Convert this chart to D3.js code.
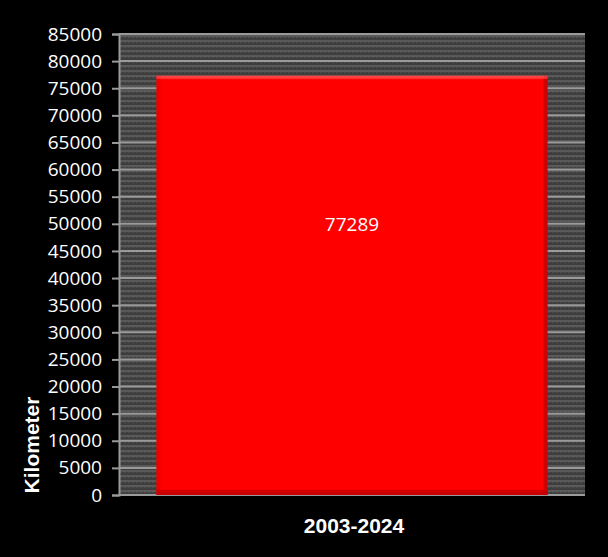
<!DOCTYPE html>
<html><head><meta charset="utf-8">
<script src="https://cdn.jsdelivr.net/npm/d3@7"></script>
<style>html,body{margin:0;padding:0;background:#000;}svg{display:block;}</style>
</head><body>
<script>
const categories = ["2003-2024"];
const values = [77289];
const yTicks = [0,5000,10000,15000,20000,25000,30000,35000,40000,45000,50000,55000,60000,65000,70000,75000,80000,85000];
const yLabel = "Kilometer";

const W = 608, H = 557;
const m = {left:119, right:23, top:34, bottom:62};
const svg = d3.select("body").append("svg").attr("width", W).attr("height", H);
svg.append("rect").attr("width", W).attr("height", H).attr("fill", "#000");

const defs = svg.append("defs");
const pat = defs.append("pattern").attr("id","stripes").attr("patternUnits","userSpaceOnUse")
  .attr("width",4).attr("height",5);
pat.append("rect").attr("width",4).attr("height",5).attr("fill","#3e3e3e");
pat.append("rect").attr("y",0).attr("width",4).attr("height",2).attr("fill","#595959");
pat.append("rect").attr("x",0).attr("y",2).attr("width",2).attr("height",1).attr("fill","#4c4c4c");

const x = d3.scaleBand().domain(categories).range([m.left, W - m.right]).paddingInner(0.0875).paddingOuter(0.0875);
const y = d3.scaleLinear().domain([0, 85000]).range([H - m.bottom, m.top]);

svg.append("rect").attr("x", m.left).attr("y", m.top)
  .attr("width", W - m.right - m.left).attr("height", (H - m.bottom) - m.top)
  .attr("fill", "url(#stripes)");

svg.append("g").selectAll("line").data(yTicks).join("line")
  .attr("x1", m.left).attr("x2", W - m.right)
  .attr("y1", d => y(d)).attr("y2", d => y(d))
  .attr("stroke", "#9a9a9a").attr("stroke-width", 2);

const yAxis = svg.append("g").attr("transform", `translate(${m.left},0)`)
  .call(d3.axisLeft(y).tickValues(yTicks).tickSize(7).tickPadding(10).tickFormat(d3.format("d")));
yAxis.select(".domain").attr("stroke", "#9a9a9a").attr("stroke-width", 2);
yAxis.selectAll(".tick line").attr("stroke", "#9a9a9a").attr("stroke-width", 2);
yAxis.selectAll(".tick text").attr("fill", "#fff").attr("font-size", 19)
  .attr("font-family", "'Open Sans', 'Noto Sans', sans-serif");

const gEdge = defs.append("linearGradient").attr("id","barv").attr("x1",0).attr("x2",0).attr("y1",0).attr("y2",1);
gEdge.append("stop").attr("offset","0").attr("stop-color","#ff3030");
gEdge.append("stop").attr("offset","0.01").attr("stop-color","#ff0000");
gEdge.append("stop").attr("offset","0.985").attr("stop-color","#ff0000");
gEdge.append("stop").attr("offset","1").attr("stop-color","#c40000");

const bars = svg.append("g").selectAll("g").data(categories.map((c,i)=>({c, v: values[i]}))).join("g");
bars.append("rect")
  .attr("x", d => x(d.c)).attr("y", d => y(d.v))
  .attr("width", x.bandwidth()).attr("height", d => y(0) - y(d.v))
  .attr("fill", "url(#barv)");
bars.append("rect")
  .attr("x", d => x(d.c)).attr("y", d => y(d.v))
  .attr("width", 4).attr("height", d => y(0) - y(d.v))
  .attr("fill", "#e00000").attr("opacity", 0.6);
bars.append("rect")
  .attr("x", d => x(d.c) + x.bandwidth() - 4).attr("y", d => y(d.v))
  .attr("width", 4).attr("height", d => y(0) - y(d.v))
  .attr("fill", "#b00000").attr("opacity", 0.6);
bars.append("rect")
  .attr("x", d => x(d.c)).attr("y", d => y(d.v))
  .attr("width", x.bandwidth()).attr("height", 3)
  .attr("fill", "#ff4a4a").attr("opacity", 0.7);
bars.append("rect")
  .attr("x", d => x(d.c)).attr("y", d => y(0) - 5)
  .attr("width", x.bandwidth()).attr("height", 5)
  .attr("fill", "#c80000").attr("opacity", 0.7);
bars.append("text")
  .attr("x", d => x(d.c) + x.bandwidth()/2)
  .attr("y", d => y(d.v) + 150)
  .attr("text-anchor", "middle").attr("dominant-baseline", "middle")
  .attr("fill", "#fff").attr("font-size", 19)
  .attr("font-family", "'Open Sans', 'Noto Sans', sans-serif")
  .text(d => d.v);

svg.append("g").selectAll("text").data(categories).join("text")
  .attr("x", d => x(d) + x.bandwidth()/2 + 2).attr("y", H - m.bottom + 38)
  .attr("text-anchor", "middle").attr("fill", "#fff")
  .attr("font-size", 21).attr("font-weight", "bold")
  .attr("font-family", "'Liberation Sans', Arial, sans-serif")
  .text(d => d);

svg.append("text")
  .attr("transform", `translate(39, 445) rotate(-90)`)
  .attr("text-anchor", "middle").attr("fill", "#fff")
  .attr("font-size", 21).attr("font-weight", "bold")
  .attr("font-family", "'Liberation Sans', Arial, sans-serif")
  .text(yLabel);
</script>
</body></html>
